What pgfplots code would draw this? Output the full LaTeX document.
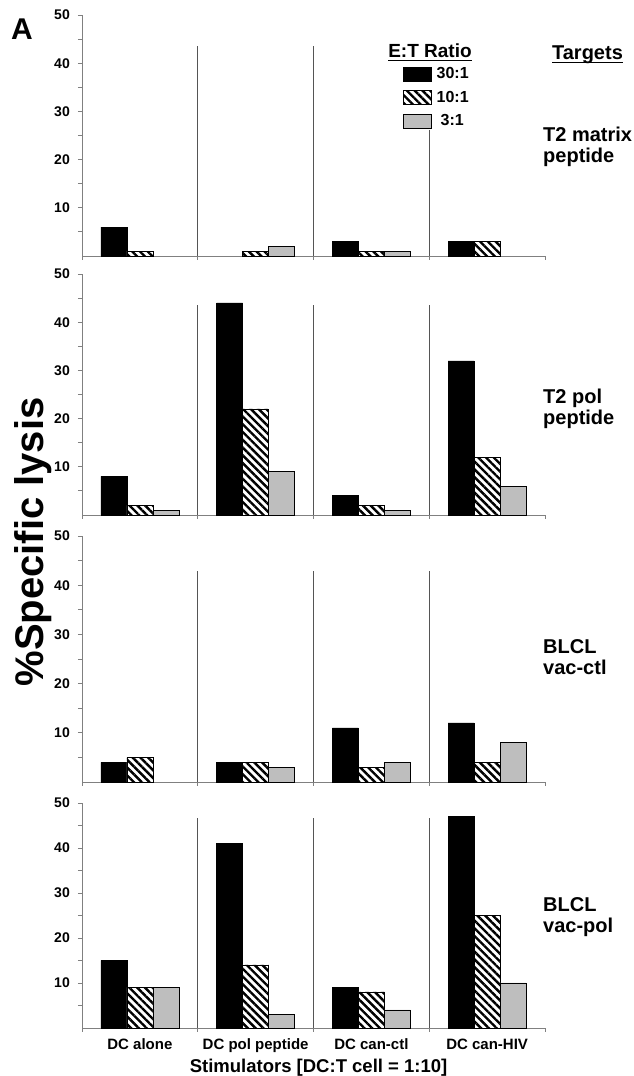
\documentclass[border=0pt]{standalone}
\usepackage{fontspec}
\setmainfont{Liberation Sans}
\usepackage{pgfplots}
\pgfplotsset{compat=1.18}
\usetikzlibrary{patterns.meta}

\definecolor{bargray}{HTML}{BEBEBE}
\definecolor{axgray}{HTML}{808080}
\definecolor{sepgray}{HTML}{555555}

% underline that runs through descenders, as in the figure
\newcommand\ulin[1]{\setbox0\hbox{#1}\rlap{\rule[-3pt]{\wd0}{1.4pt}}\box0}

\tikzset{
  b30/.style={fill=black, draw=black, line width=0.5pt},
  b10/.style={draw=black, line width=0.5pt, fill=white,
    postaction={pattern={Lines[angle=-45,distance=5.5pt,line width=2.4pt]}}},
  b3/.style={fill=bargray, draw=black, line width=0.5pt},
  sepline/.style={draw=sepgray, line width=0.8pt},
}
\pgfplotsset{
  panel/.style={
    scale only axis, width=463pt, anchor=south west,
    xmin=0.5, xmax=4.5, ymin=0, ymax=50,
    axis x line*=bottom, axis y line*=left,
    axis line style={-, draw=axgray, line width=0.9pt},
    ybar=0pt, bar width=26pt,
    xtick={0.5,1.5,2.5,3.5,4.5}, xticklabels={},
    ytick={10,20,30,40,50}, minor ytick={5,15,25,35,45},
    tick align=outside, major tick length=4pt, minor tick length=4pt,
    tick style={draw=axgray, line width=0.9pt},
    yticklabel={\fontsize{14}{16}\selectfont\bfseries\pgfmathprintnumber{\tick}},
    yticklabel style={inner sep=0pt, xshift=-8pt},
    /pgf/number format/assume math mode=true,
    clip=false,
  },
}
\newcommand\seps[3]{%
  \draw[sepline] (axis cs:1.5,0) -- (axis cs:1.5,#1);
  \draw[sepline] (axis cs:2.5,0) -- (axis cs:2.5,#2);
  \draw[sepline] (axis cs:3.5,0) -- (axis cs:3.5,#3);
}

\begin{document}
\begin{tikzpicture}[x=1pt,y=1pt]
\path[use as bounding box] (0,0) rectangle (633,1076);

% T2 matrix peptide
\begin{axis}[panel, at={(82pt,820pt)}, height=241pt,
  legend style={at={(axis cs:3.273,39.3)}, anchor=north west, draw=none, fill=none,
    inner sep=0pt, row sep=9pt, font=\fontsize{16}{18}\selectfont\bfseries,
    nodes={inner sep=0pt}, /tikz/every odd column/.style={column sep=5pt}},
  legend cell align=left,
  legend image code/.code={\draw[#1] (0pt,-7pt) rectangle (28pt,7pt);},
]
\addplot[b30] coordinates {(1,6) (3,3) (4,3)};
\addplot[b10] coordinates {(1,1) (2,1) (3,1) (4,3)};
\addplot[b3] coordinates {(2,2) (3,1)};
\legend{30:1,10:1,\hspace{4pt}3:1}
\seps{43.6}{43.6}{26.1}
\end{axis}

% T2 pol peptide
\begin{axis}[panel, at={(82pt,561pt)}, height=241pt]
\addplot[b30] coordinates {(1,8) (2,44) (3,4) (4,32)};
\addplot[b10] coordinates {(1,2) (2,22) (3,2) (4,12)};
\addplot[b3] coordinates {(1,1) (2,9) (3,1) (4,6)};
\seps{43.6}{43.6}{43.6}
\end{axis}

% BLCL vac-ctl
\begin{axis}[panel, at={(82pt,294pt)}, height=246pt]
\addplot[b30] coordinates {(1,4) (2,4) (3,11) (4,12)};
\addplot[b10] coordinates {(1,5) (2,4) (3,3) (4,4)};
\addplot[b3] coordinates {(2,3) (3,4) (4,8)};
\seps{42.8}{42.8}{42.8}
\end{axis}

% BLCL vac-pol
\begin{axis}[panel, at={(82pt,48pt)}, height=225pt,
  extra x ticks={1,2,3,4},
  extra x tick labels={DC alone,DC pol peptide,DC can-ctl,DC can-HIV},
  extra x tick style={major tick length=0pt,
    xticklabel style={font=\fontsize{15}{17}\selectfont\bfseries, yshift=-7pt}},
  xlabel={Stimulators [DC:T cell = 1:10]},
  xlabel style={font=\fontsize{18.5}{20}\selectfont\bfseries,
    at={(axis description cs:0.511,0)}, anchor=base, yshift=-44.5pt},
]
\addplot[b30] coordinates {(1,15) (2,41) (3,9) (4,47)};
\addplot[b10] coordinates {(1,9) (2,14) (3,8) (4,25)};
\addplot[b3] coordinates {(1,9) (2,3) (3,4) (4,10)};
\seps{46.6}{46.6}{46.6}
\end{axis}

\node[anchor=base west, inner sep=0pt, font=\fontsize{30}{32}\selectfont\bfseries] at (11,1036) {A};
\node[rotate=90, anchor=base, inner sep=0pt, font=\fontsize{40}{44}\selectfont\bfseries] at (43,534) {\%Specific lysis};
\node[anchor=base, inner sep=0pt, font=\fontsize{19}{21}\selectfont\bfseries] at (430,1018) {\ulin{E:T Ratio}};
\node[anchor=base, inner sep=0pt, font=\fontsize{20}{22}\selectfont\bfseries] at (587.5,1016) {\ulin{Targets}};
\node[anchor=west, align=left, inner sep=0pt, font=\fontsize{20}{21}\selectfont\bfseries] at (543,929) {T2 matrix\\peptide};
\node[anchor=west, align=left, inner sep=0pt, font=\fontsize{20}{21}\selectfont\bfseries] at (543,667) {T2 pol\\peptide};
\node[anchor=west, align=left, inner sep=0pt, font=\fontsize{20}{21}\selectfont\bfseries] at (543,419) {BLCL\\vac-ctl};
\node[anchor=west, align=left, inner sep=0pt, font=\fontsize{20}{21}\selectfont\bfseries] at (543,159) {BLCL\\vac-pol};
\end{tikzpicture}
\end{document}
